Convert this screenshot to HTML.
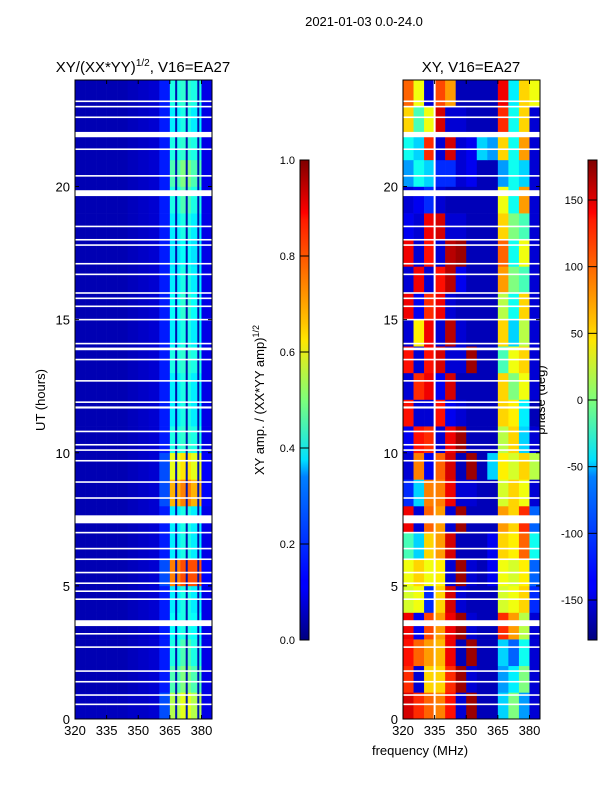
<!DOCTYPE html>
<html><head><meta charset="utf-8"><style>
body{margin:0;background:#fff;}
svg{display:block;font-family:"Liberation Sans",sans-serif;}
</style></head><body>
<svg id="fig" width="600" height="800" xmlns="http://www.w3.org/2000/svg">
<text x="364" y="26" font-size="13" text-anchor="middle">2021-01-03 0.0-24.0</text>
<text x="143" y="72" font-size="15" text-anchor="middle">XY/(XX*YY)<tspan font-size="10" dy="-6">1/2</tspan><tspan dy="6">, V16=EA27</tspan></text>
<text x="471" y="72" font-size="15" text-anchor="middle">XY, V16=EA27</text>
<text x="0" y="0" font-size="13" text-anchor="middle" transform="translate(45,400) rotate(-90)">UT (hours)</text>
<text x="420" y="755" font-size="13" text-anchor="middle">frequency (MHz)</text>
<text x="0" y="0" font-size="13" text-anchor="middle" transform="translate(264,400) rotate(-90)">XY amp. / (XX*YY amp)<tspan font-size="9" dy="-5">1/2</tspan></text>
<text x="0" y="0" font-size="13" text-anchor="middle" transform="translate(545,400) rotate(-90)">phase (deg)</text>
<defs>
<linearGradient id="jet" x1="0" y1="1" x2="0" y2="0">
<stop offset="0" stop-color="#00007f"/><stop offset="0.11" stop-color="#0000ff"/><stop offset="0.125" stop-color="#0000ff"/><stop offset="0.34" stop-color="#0080ff"/><stop offset="0.375" stop-color="#00e0ff"/><stop offset="0.5" stop-color="#7dff7a"/><stop offset="0.625" stop-color="#ffe600"/><stop offset="0.66" stop-color="#ffc400"/><stop offset="0.875" stop-color="#ff1a00"/><stop offset="0.89" stop-color="#ff0000"/><stop offset="1" stop-color="#7f0000"/>
</linearGradient>
</defs>
<g id="p1"></g>
<g id="p2"></g>
<g id="axes"></g>
</svg>
<script>
const freqEdges=[320,325,330,335,340,345,350,355,360,365,370,375,380,385];
const hourEdges=[0,1,2,3,4,5,6,7,8,9,10,11,12,13,14,15,16,17,18,19,20,21,22,23,24];
const xTicks=[320,335,350,365,380];
const yTicks=[0,5,10,15,20];
const ampTicks=[0,0.2,0.4,0.6,0.8,1.0];
const ampTickLabels=["0.0","0.2","0.4","0.6","0.8","1.0"];
const phaseTicks=[-150,-100,-50,0,50,100,150];
const subbandEdges=[368,373,378.5];
const phaseGapFreqs=[335];
const amp=[
[0.06,0.06,0.06,0.06,0.06,0.07,0.07,0.08,0.2,0.55,0.6,0.55,0.1],
[0.05,0.05,0.05,0.05,0.05,0.06,0.07,0.08,0.15,0.45,0.5,0.45,0.1],
[0.05,0.05,0.05,0.05,0.05,0.06,0.07,0.08,0.15,0.4,0.45,0.4,0.1],
[0.05,0.05,0.05,0.05,0.05,0.06,0.07,0.08,0.15,0.38,0.4,0.38,0.1],
[0.05,0.05,0.05,0.05,0.05,0.06,0.07,0.08,0.15,0.36,0.4,0.36,0.1],
[0.05,0.05,0.05,0.05,0.05,0.06,0.07,0.08,0.2,0.75,0.8,0.8,0.12],
[0.05,0.05,0.05,0.05,0.05,0.06,0.07,0.08,0.15,0.36,0.4,0.36,0.1],
[0.05,0.05,0.05,0.05,0.05,0.06,0.07,0.08,0.15,0.36,0.4,0.36,0.1],
[0.05,0.05,0.05,0.05,0.05,0.06,0.07,0.08,0.2,0.7,0.75,0.7,0.12],
[0.05,0.05,0.05,0.05,0.05,0.06,0.07,0.08,0.2,0.6,0.65,0.6,0.12],
[0.05,0.05,0.05,0.05,0.05,0.06,0.07,0.08,0.15,0.4,0.42,0.4,0.1],
[0.05,0.05,0.05,0.05,0.05,0.06,0.07,0.08,0.15,0.36,0.4,0.36,0.1],
[0.05,0.05,0.05,0.05,0.05,0.06,0.07,0.08,0.15,0.36,0.4,0.36,0.1],
[0.05,0.05,0.05,0.05,0.05,0.06,0.07,0.08,0.15,0.4,0.42,0.4,0.1],
[0.05,0.05,0.05,0.05,0.05,0.06,0.07,0.08,0.15,0.36,0.4,0.36,0.1],
[0.05,0.05,0.05,0.05,0.05,0.06,0.07,0.08,0.15,0.38,0.42,0.38,0.1],
[0.05,0.05,0.05,0.05,0.05,0.06,0.07,0.08,0.15,0.36,0.4,0.36,0.1],
[0.05,0.05,0.05,0.05,0.05,0.06,0.07,0.08,0.15,0.35,0.38,0.35,0.1],
[0.05,0.05,0.05,0.05,0.05,0.06,0.07,0.08,0.15,0.36,0.4,0.36,0.1],
[0.05,0.05,0.05,0.05,0.05,0.06,0.07,0.08,0.15,0.4,0.45,0.4,0.1],
[0.05,0.05,0.05,0.05,0.05,0.06,0.07,0.08,0.15,0.45,0.5,0.45,0.1],
[0.05,0.05,0.05,0.05,0.05,0.06,0.07,0.08,0.15,0.4,0.42,0.4,0.1],
[0.05,0.05,0.05,0.05,0.05,0.06,0.07,0.08,0.15,0.36,0.4,0.36,0.1],
[0.05,0.05,0.05,0.05,0.05,0.06,0.07,0.08,0.15,0.4,0.42,0.4,0.1]
];
const phase=[
[150,120,100,90,130,-150,170,-160,-160,-60,0,-80,-150],
[120,-150,60,60,120,170,-150,-160,-160,-80,-50,0,-150],
[130,100,80,70,140,-160,170,-160,-160,-60,-100,-40,-150],
[140,-140,110,80,140,170,-150,-160,-160,120,80,20,-150],
[30,40,-120,60,150,-150,-160,-160,-160,30,40,60,-120],
[40,60,40,50,-150,170,-150,-160,-140,40,30,50,-100],
[-20,-60,60,80,150,-160,-160,-160,-140,60,50,100,-40],
[140,-150,100,80,-150,170,-160,-160,-160,80,60,120,-100],
[-120,-60,90,90,140,-150,-150,-160,-160,30,60,40,-150],
[-150,90,-140,100,150,-160,170,-160,-60,50,30,60,20],
[-140,130,120,-150,140,170,-160,-160,-160,20,60,-60,-150],
[130,-150,-150,130,-140,-150,-160,-160,-160,60,50,-50,-160],
[-150,120,140,-140,150,-160,-160,-160,-160,60,0,40,-150],
[130,-150,130,150,-150,-150,170,-160,-160,-20,40,60,-150],
[-150,50,140,-150,160,-150,-160,-160,-160,60,-60,20,-150],
[140,-140,120,140,-150,-160,-160,-160,-160,20,-40,60,-150],
[-150,140,-150,130,160,-140,-160,-160,-160,80,0,-20,-150],
[140,-150,130,-150,160,170,-160,-160,-160,100,-40,40,-150],
[-140,-150,140,150,-150,-150,-160,-160,-160,60,0,-20,-150],
[-150,-140,-120,-150,-160,-160,-160,-160,-160,40,-40,80,-150],
[-80,-40,-60,-120,-120,-150,-140,-160,-160,-80,-40,-60,-150],
[-40,-60,120,-150,150,-150,-140,-60,-80,60,-40,80,-150],
[60,-20,40,150,-150,-150,-160,-160,-160,120,-40,60,-150],
[100,40,-150,110,80,-160,-160,-160,-160,140,-50,60,40]
];
const gapTimes=[0.55,0.9,1.4,1.8,2.7,3.2,3.6,4.5,4.8,5.1,5.5,6.0,6.4,7.0,7.5,8.3,8.9,9.7,10.1,10.3,10.8,11.7,11.9,12.7,13.5,13.9,14.1,15.0,15.5,15.8,16.0,16.7,17.1,17.8,18.0,18.5,19.75,20.4,21.4,21.95,22.6,23.0,23.2];
const gapWidths=[0.06,0.06,0.06,0.06,0.06,0.06,0.22,0.06,0.06,0.06,0.06,0.06,0.06,0.06,0.3,0.06,0.06,0.06,0.06,0.06,0.06,0.08,0.06,0.06,0.06,0.1,0.06,0.06,0.06,0.06,0.06,0.06,0.06,0.06,0.06,0.06,0.22,0.06,0.06,0.2,0.06,0.06,0.06];

const NS="http://www.w3.org/2000/svg";
function mk(t,a,p){const e=document.createElementNS(NS,t);for(const k in a)e.setAttribute(k,a[k]);p.appendChild(e);return e;}
function jet(v){v=Math.max(0,Math.min(1,v));
 const r=Math.max(0,Math.min(1,1.5-Math.abs(4*v-3))),g=Math.max(0,Math.min(1,1.5-Math.abs(4*v-2))),b=Math.max(0,Math.min(1,1.5-Math.abs(4*v-1)));
 return `rgb(${Math.round(r*255)},${Math.round(g*255)},${Math.round(b*255)})`;}
const yTop=80,yBot=719;
const yS=h=>yBot-(h-0)/(24-0)*(yBot-yTop);
function xS(x0,x1){return f=>x0+(f-320)/(385-320)*(x1-x0);}
const panels=[{g:'p1',x0:75,x1:212,data:amp,norm:v=>v,vlines:subbandEdges,vcol:'#0010b0'},{g:'p2',x0:403,x1:540,data:phase,norm:v=>(v+180)/360,vlines:phaseGapFreqs,vcol:'#fff'}];
const axes=document.getElementById('axes');
panels.forEach((P,pi)=>{
 const g=document.getElementById(P.g),X=xS(P.x0,P.x1);
 P.data.forEach((row,ri)=>row.forEach((v,ci)=>{
  const x=X(freqEdges[ci]),w=X(freqEdges[ci+1])-x,y=yS(hourEdges[ri+1]),h=yS(hourEdges[ri])-y;
  const r=mk('rect',{x:x,y:y,width:w+0.3,height:h+0.3,fill:jet(P.norm(v))},g);
  
  
 }));
 P.vlines.forEach(f=>{
  const r=mk('rect',{x:X(f)-1,y:yTop,width:2,height:yBot-yTop,fill:P.vcol},g);
  
  
 });
 gapTimes.forEach((t,i)=>{
  const y1=yS(t+gapWidths[i]/2),y2=yS(t-gapWidths[i]/2);
  const r=mk('rect',{x:P.x0,y:y1,width:P.x1-P.x0,height:Math.max(1.5,y2-y1),fill:'#fff'},g);
  
  
 });
 const fr=mk('rect',{x:P.x0,y:yTop,width:P.x1-P.x0,height:yBot-yTop,fill:'none',stroke:'#000','stroke-width':1},axes);
 
 
 xTicks.forEach(t=>{const x=X(t);
  mk('line',{x1:x,x2:x,y1:yBot,y2:yBot-4,stroke:'#000'},axes);
  mk('line',{x1:x,x2:x,y1:yTop,y2:yTop+4,stroke:'#000'},axes);
  const tx=mk('text',{x:x,y:yBot+16,'font-size':13,'text-anchor':'middle'},axes);tx.textContent=t;
  
  
 });
 yTicks.forEach(t=>{const y=yS(t);
  mk('line',{x1:P.x0,x2:P.x0+4,y1:y,y2:y,stroke:'#000'},axes);
  mk('line',{x1:P.x1,x2:P.x1-4,y1:y,y2:y,stroke:'#000'},axes);
  const tx=mk('text',{x:P.x0-5,y:y+5,'font-size':13,'text-anchor':'end'},axes);tx.textContent=t;
  
  
 });
});
const cbs=[{x:300,ticks:ampTicks,labels:ampTickLabels,n:v=>v,name:'colorbar-amplitude'},{x:588,ticks:phaseTicks,labels:phaseTicks.map(String),n:v=>(v+180)/360,name:'colorbar-phase'}];
cbs.forEach(C=>{
 const r=mk('rect',{x:C.x,y:160,width:9,height:480,fill:'url(#jet)',stroke:'#000','stroke-width':1},axes);
 
 
 C.ticks.forEach((t,i)=>{const y=640-C.n(t)*480;
  mk('line',{x1:C.x,x2:C.x+9,y1:y,y2:y,stroke:'#000'},axes);
  const tx=mk('text',{x:C.x-5,y:y+4,'font-size':11,'text-anchor':'end'},axes);tx.textContent=C.labels[i];
  
  
 });
});
</script>
</body></html>
